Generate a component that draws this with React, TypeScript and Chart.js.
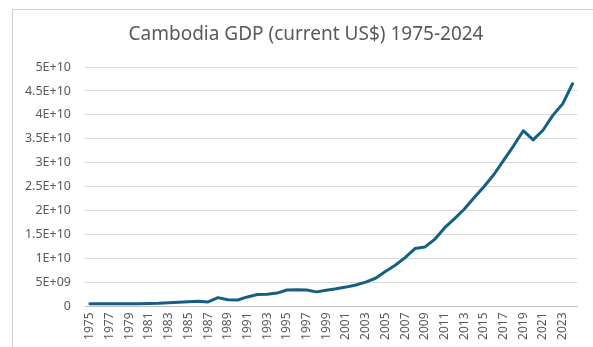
import React, { useEffect, useRef } from "react";
import { Chart, registerables } from "chart.js";

Chart.register(...registerables);

const years: string[] = [
  "1975", "1976", "1977", "1978", "1979", "1980", "1981", "1982", "1983", "1984",
  "1985", "1986", "1987", "1988", "1989", "1990", "1991", "1992", "1993", "1994",
  "1995", "1996", "1997", "1998", "1999", "2000", "2001", "2002", "2003", "2004",
  "2005", "2006", "2007", "2008", "2009", "2010", "2011", "2012", "2013", "2014",
  "2015", "2016", "2017", "2018", "2019", "2020", "2021", "2022", "2023", "2024",
];

const gdp: number[] = [
  6.0e8, 6.0e8, 6.0e8, 6.0e8, 6.0e8, 6.0e8, 6.5e8, 7.0e8, 8.0e8, 9.0e8,
  1.0e9, 1.1e9, 9.5e8, 1.85e9, 1.4e9, 1.35e9, 2.0e9, 2.5e9, 2.55e9, 2.8e9,
  3.45e9, 3.5e9, 3.45e9, 3.05e9, 3.4e9, 3.7e9, 4.05e9, 4.5e9, 5.1e9, 5.9e9,
  7.3e9, 8.6e9, 1.02e10, 1.21e10, 1.24e10, 1.4e10, 1.64e10, 1.83e10, 2.03e10, 2.27e10,
  2.5e10, 2.75e10, 3.05e10, 3.35e10, 3.67e10, 3.48e10, 3.68e10, 3.99e10, 4.23e10, 4.65e10,
];

const yTickLabels: string[] = [
  "0", "5E+09", "1E+10", "1.5E+10", "2E+10", "2.5E+10",
  "3E+10", "3.5E+10", "4E+10", "4.5E+10", "5E+10",
];

const titleText = "Cambodia GDP (current US$) 1975-2024";

const titlePlugin = {
  id: "customTitle",
  afterDraw(chart: any) {
    const ctx = chart.ctx;
    ctx.save();
    ctx.fillStyle = "#595959";
    ctx.font = "19px 'Noto Sans', sans-serif";
    ctx.textAlign = "center";
    ctx.textBaseline = "middle";
    ctx.fillText(titleText, 306, 35);
    ctx.restore();
  },
};

export default function App() {
  const canvasRef = useRef<HTMLCanvasElement | null>(null);

  useEffect(() => {
    const canvas = canvasRef.current;
    if (!canvas) return;
    const chart = new Chart(canvas, {
      type: "line",
      data: {
        labels: years,
        datasets: [
          {
            label: "GDP",
            data: gdp,
            borderColor: "#156082",
            backgroundColor: "#156082",
            borderWidth: 3,
            pointRadius: 0,
            tension: 0,
            borderJoinStyle: "round",
            borderCapStyle: "round",
          },
        ],
      },
      options: {
        animation: false,
        responsive: false,
        devicePixelRatio: 1,
        layout: { padding: { left: 0, right: 8, top: 67, bottom: 0 } },
        plugins: {
          legend: { display: false },
          tooltip: { enabled: false },
          title: { display: false },
        },
        scales: {
          x: {
            offset: true,
            grid: { display: false, drawTicks: false },
            border: { display: true, color: "#bfbfbf", width: 1 },
            ticks: {
              autoSkip: false,
              minRotation: 90,
              maxRotation: 90,
              padding: 6,
              color: "#595959",
              font: { family: "'Noto Sans', sans-serif", size: 12 },
              callback: (_v: any, i: number) => (i % 2 === 0 ? years[i] : ""),
            },
            afterFit: (scale: any) => {
              scale.height = 40.5;
            },
          },
          y: {
            min: 0,
            max: 5e10,
            grid: { color: "#d9d9d9", lineWidth: 1, drawTicks: false },
            border: { display: false },
            ticks: {
              stepSize: 5e9,
              padding: 14,
              color: "#595959",
              font: { family: "'Noto Sans', sans-serif", size: 12.5 },
              callback: (_v: any, i: number) => yTickLabels[i],
            },
            afterFit: (scale: any) => {
              scale.width = 85;
            },
          },
        },
      },
      plugins: [titlePlugin],
    });
    return () => chart.destroy();
  }, []);

  return (
    <div
      style={{
        position: "fixed",
        left: 0,
        top: 0,
        width: 593,
        height: 347,
        background: "#ffffff",
        overflow: "hidden",
      }}
    >
      <div
        style={{
          position: "absolute",
          left: 12,
          top: 9,
          width: 640,
          height: 400,
          border: "1px solid #d0d0d0",
          boxSizing: "border-box",
        }}
      />
      <canvas
        ref={canvasRef}
        width={593}
        height={347}
        style={{ position: "absolute", left: 0, top: 0, width: 593, height: 347 }}
      />
    </div>
  );
}
